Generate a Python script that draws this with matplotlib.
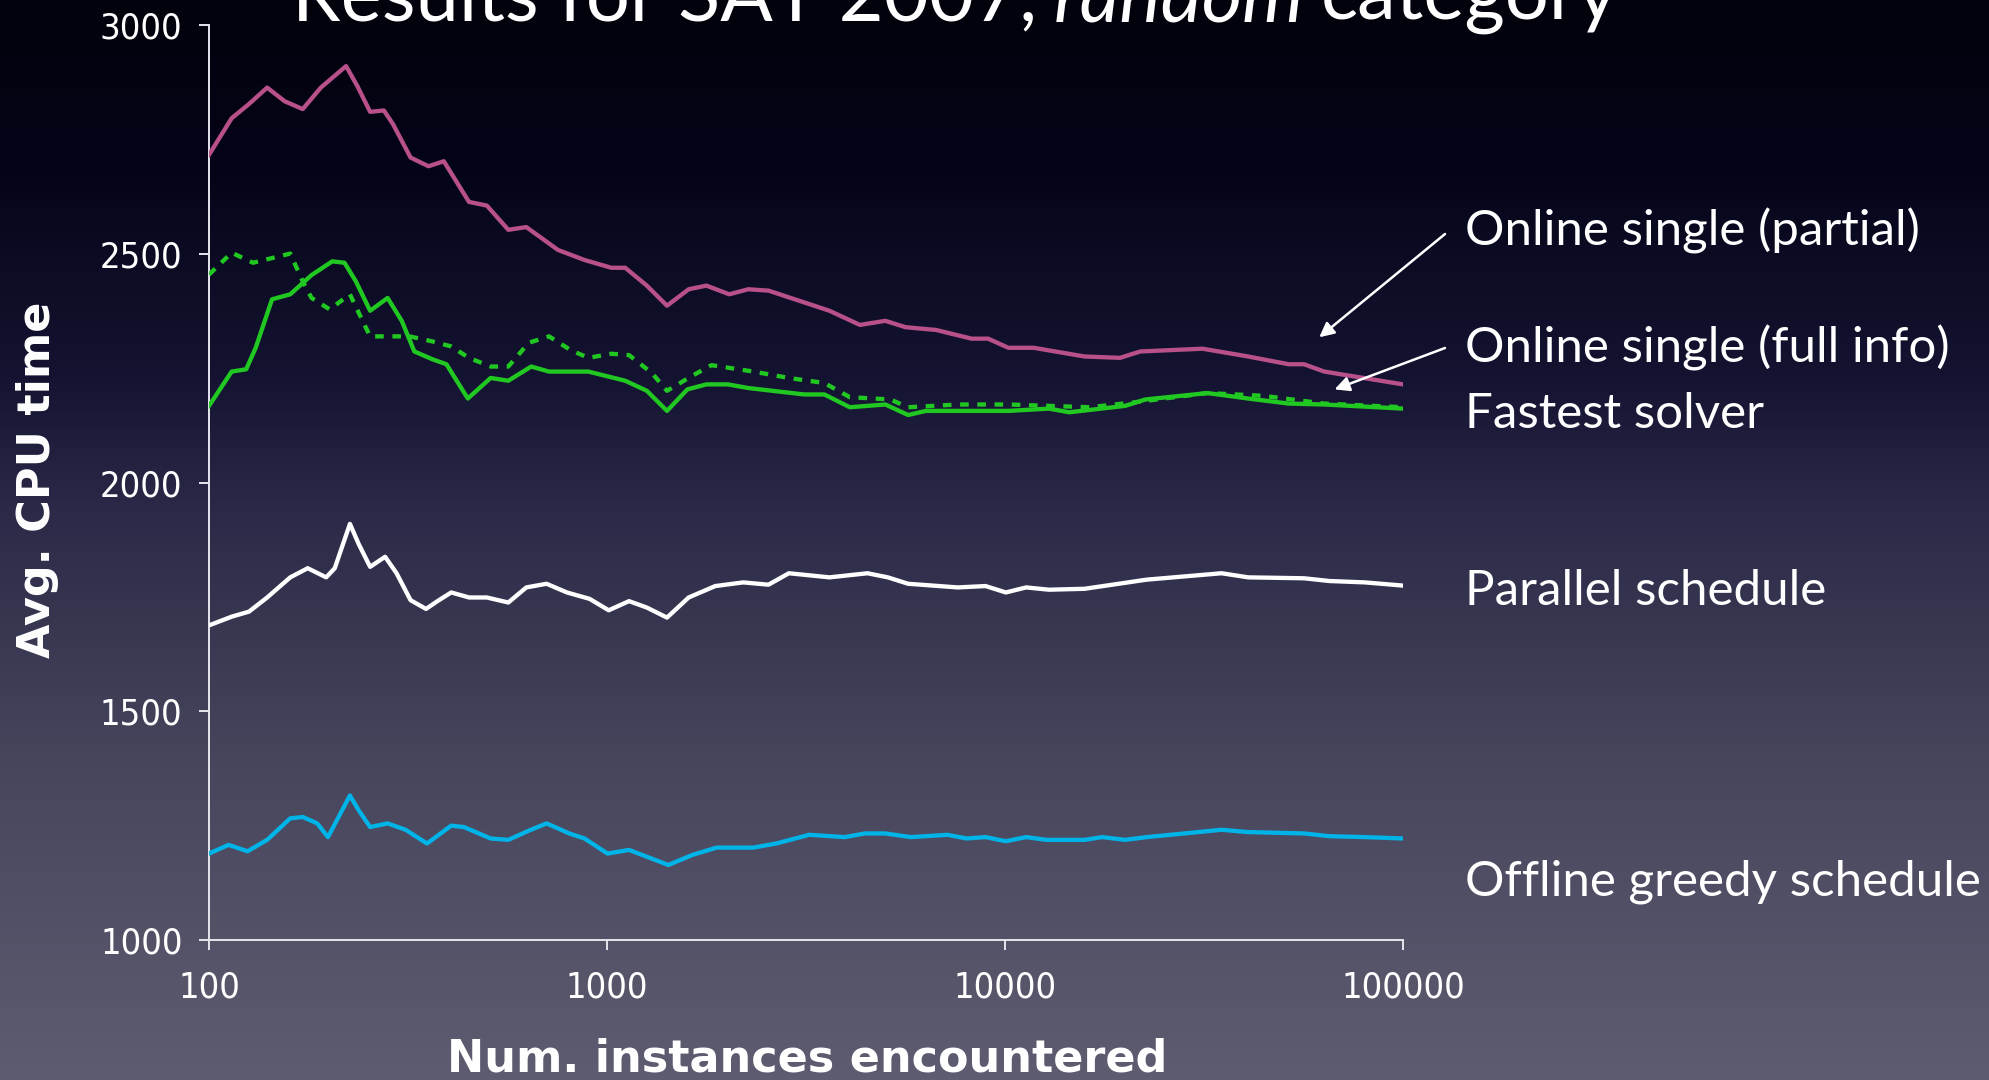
import numpy as np
import matplotlib
matplotlib.use("Agg")
import matplotlib.pyplot as plt
from matplotlib.colors import LinearSegmentedColormap

# ---- series: number of instances encountered vs. average CPU time ----
partial_n = [100, 114, 126, 140, 155, 172, 191, 221, 236, 254, 275, 290, 321, 356, 389,
             450, 499, 565, 627, 753, 878, 1025, 1111, 1259, 1415, 1604, 1777, 2028, 2264,
             2546, 3317, 3622, 4320, 5003, 5628, 6711, 8241, 9070, 10197, 11809, 15843,
             19454, 21878, 31354, 40832, 51642, 56400, 63434, 100000]
partial_t = [2717, 2797, 2828, 2864, 2834, 2817, 2864, 2911, 2867, 2811, 2814, 2784, 2711,
             2692, 2703, 2614, 2606, 2553, 2559, 2509, 2487, 2470, 2470, 2431, 2387, 2423,
             2431, 2412, 2423, 2420, 2387, 2376, 2345, 2354, 2340, 2334, 2315, 2315, 2295,
             2295, 2276, 2273, 2287, 2293, 2276, 2259, 2259, 2243, 2215]

fullinfo_n = [100, 114, 129, 160, 172, 181, 201, 226, 245, 254, 281, 319, 364, 406, 450,
              510, 565, 636, 715, 810, 898, 1025, 1136, 1296, 1415, 1639, 1830, 2332, 2864,
              3517, 4074, 5152, 5710, 7603, 10197, 12895, 16313, 21250, 32284, 44606,
              63434, 100000]
fullinfo_t = [2455, 2503, 2481, 2501, 2440, 2404, 2379, 2412, 2348, 2320, 2320, 2320, 2309,
              2298, 2273, 2254, 2254, 2306, 2320, 2290, 2273, 2282, 2279, 2240, 2201, 2234,
              2257, 2243, 2229, 2218, 2187, 2182, 2165, 2171, 2171, 2168, 2165, 2176, 2196,
              2190, 2173, 2165]

fastest_n = [100, 114, 124, 131, 144, 160, 181, 204, 219, 234, 254, 281, 305, 328, 364,
             395, 447, 510, 565, 645, 715, 898, 1111, 1259, 1415, 1592, 1777, 2013, 2264,
             3128, 3517, 4074, 5003, 5710, 6328, 10197, 12895, 14503, 20036, 22532, 32284,
             40832, 51642, 63434, 100000]
fastest_t = [2168, 2243, 2248, 2295, 2401, 2412, 2454, 2484, 2481, 2440, 2376, 2404, 2354,
             2287, 2270, 2259, 2184, 2229, 2223, 2254, 2243, 2243, 2223, 2201, 2157, 2204,
             2215, 2215, 2207, 2193, 2193, 2165, 2171, 2148, 2157, 2157, 2162, 2154, 2168,
             2182, 2196, 2184, 2173, 2171, 2162]

parallel_n = [100, 114, 126, 140, 160, 177, 197, 207, 226, 238, 254, 277, 296, 321, 351,
              375, 406, 450, 499, 565, 627, 705, 793, 904, 1010, 1136, 1259, 1415, 1604,
              1871, 2199, 2546, 2864, 3622, 4514, 5078, 5710, 7603, 8935, 10049, 11302,
              12895, 15843, 22699, 34995, 40832, 56400, 65330, 80230, 100000]
parallel_t = [1688, 1707, 1718, 1749, 1793, 1813, 1793, 1813, 1910, 1865, 1816, 1838, 1802,
              1743, 1724, 1741, 1760, 1749, 1749, 1738, 1771, 1779, 1760, 1746, 1721, 1741,
              1727, 1705, 1749, 1774, 1782, 1777, 1802, 1793, 1802, 1793, 1779, 1771, 1774,
              1760, 1771, 1766, 1768, 1788, 1802, 1793, 1791, 1785, 1782, 1775]

greedy_n = [100, 112, 125, 140, 160, 172, 187, 199, 226, 238, 254, 281, 312, 353, 406,
            437, 510, 565, 636, 705, 804, 878, 1003, 1136, 1426, 1639, 1885, 2332, 2662,
            3221, 3957, 4448, 5003, 5794, 7171, 8005, 8935, 10049, 11302, 12707, 15843,
            17555, 20036, 22699, 34995, 40832, 56400, 65330, 80230, 100000]
greedy_t = [1189, 1208, 1194, 1219, 1266, 1269, 1255, 1225, 1316, 1283, 1247, 1255, 1241,
            1211, 1250, 1247, 1222, 1219, 1239, 1255, 1233, 1222, 1189, 1197, 1164, 1186,
            1202, 1202, 1211, 1230, 1225, 1233, 1233, 1225, 1230, 1222, 1225, 1216, 1225,
            1219, 1219, 1225, 1219, 1225, 1241, 1236, 1233, 1227, 1225, 1222]

x_ticks = [100, 1000, 10000, 100000]
x_tick_labels = ["100", "1000", "10000", "100000"]
y_ticks = [1000, 1500, 2000, 2500, 3000]
y_tick_labels = ["1000", "1500", "2000", "2500", "3000"]

series_labels = ["Online single (partial)", "Online single (full info)", "Fastest solver",
                 "Parallel schedule", "Offline greedy schedule"]

# arrow targets on the two online curves
arrow_partial_xy = (61600, 2318)
arrow_full_xy = (67300, 2204)

W, H = 1989, 1080
fig = plt.figure(figsize=(W / 100, H / 100), dpi=100)

# slide background: dark navy at the top fading to grey-violet at the bottom
bg = fig.add_axes([0, 0, 1, 1], zorder=-10)
bg_cmap = LinearSegmentedColormap.from_list(
    "slide",
    [(0.0, (2 / 255, 2 / 255, 12 / 255)),
     (0.15, (4 / 255, 4 / 255, 24 / 255)),
     (0.35, (20 / 255, 20 / 255, 50 / 255)),
     (0.47, (42 / 255, 42 / 255, 72 / 255)),
     (0.70, (70 / 255, 69 / 255, 92 / 255)),
     (1.0, (94 / 255, 92 / 255, 112 / 255))])
grad = np.linspace(0, 1, 512).reshape(-1, 1)
bg.imshow(grad, aspect="auto", cmap=bg_cmap, extent=[0, 1, 1, 0])
bg.set_axis_off()

px = lambda x: x / W
py = lambda y: 1 - y / H

ax = fig.add_axes([px(209), py(940), px(1403) - px(209), (940 - 25.4) / H])
ax.set_facecolor("none")
ax.set_xscale("log")
ax.set_xlim(100, 100000)
ax.set_ylim(1000, 3000)

lw = 3.1
ax.plot(partial_n, partial_t, color="#b8508a", lw=lw, solid_joinstyle="round", zorder=3)
ax.plot(fastest_n, fastest_t, color="#22c822", lw=lw, solid_joinstyle="round", zorder=4)
ax.plot(fullinfo_n, fullinfo_t, color="#22c822", lw=lw, linestyle=(0, (2, 2)),
        dash_capstyle="butt", zorder=5)
ax.plot(parallel_n, parallel_t, color="#ffffff", lw=lw, solid_joinstyle="round", zorder=3)
ax.plot(greedy_n, greedy_t, color="#00b4e8", lw=lw, solid_joinstyle="round", zorder=3)

for side in ("top", "right"):
    ax.spines[side].set_visible(False)
for side in ("left", "bottom"):
    ax.spines[side].set_color("#e6e6ee")
    ax.spines[side].set_linewidth(1.4)

tick_font = dict(family="DejaVu Sans", stretch="condensed", size=26)
ax.set_xticks(x_ticks)
ax.set_xticklabels(x_tick_labels, color="white", **tick_font)
ax.xaxis.set_minor_locator(matplotlib.ticker.NullLocator())
ax.set_yticks(y_ticks)
ax.set_yticklabels(y_tick_labels, color="white", **tick_font)
ax.tick_params(axis="both", colors="#e6e6ee", length=7, width=1.4, direction="out")
ax.tick_params(axis="x", pad=15)
ax.tick_params(axis="y", pad=12)
for lab in ax.get_xticklabels() + ax.get_yticklabels():
    lab.set_color("white")

# axis titles
fig.text(px(807), py(1072), "Num. instances encountered", color="white",
         family="DejaVu Sans", weight="bold", size=32, ha="center", va="baseline")
fig.text(px(50), py(480), "Avg. CPU time", color="white", family="DejaVu Sans",
         weight="bold", size=32, rotation=90, rotation_mode="anchor",
         ha="center", va="baseline")

# slide title with the italic category name
title_kw = dict(color="white", family="Lato", size=56)
t1 = fig.text(px(292), py(20), "Results for SAT 2007,", va="baseline", **title_kw)
t2 = ax.annotate("random", xy=(1, 0), xycoords=t1, xytext=(12, 0),
                 textcoords="offset points", ha="left", va="bottom",
                 style="italic", **title_kw)
ax.annotate("category", xy=(1, 0), xycoords=t2, xytext=(12, 0),
            textcoords="offset points", ha="left", va="bottom", **title_kw)

# series names to the right of the plot
label_kw = dict(color="white", family="Lato", size=35.5, ha="left", va="baseline")
for name, base in zip(series_labels, [246, 362, 428, 605, 896]):
    fig.text(px(1465), py(base), name, **label_kw)

arrow_kw = dict(arrowstyle="-|>", color="white", lw=1.8, mutation_scale=22,
                shrinkA=0, shrinkB=0)
ax.annotate("", xy=arrow_partial_xy, xycoords="data",
            xytext=(px(1445), py(234)), textcoords="figure fraction",
            arrowprops=arrow_kw, annotation_clip=False)
ax.annotate("", xy=arrow_full_xy, xycoords="data",
            xytext=(px(1445), py(348)), textcoords="figure fraction",
            arrowprops=arrow_kw, annotation_clip=False)

fig.savefig("out.png", dpi=100)
